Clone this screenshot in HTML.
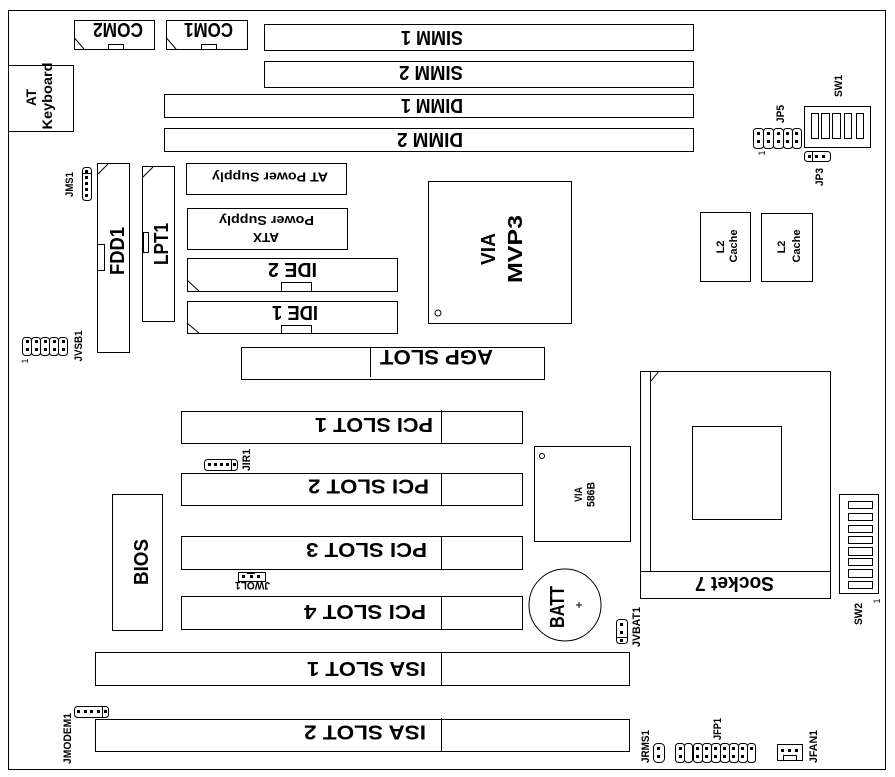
<!DOCTYPE html>
<html><head><meta charset="utf-8"><style>
html,body{margin:0;padding:0;background:#fff}
svg{display:block}
rect,circle,path,line{fill:none;stroke:#000;stroke-width:1}
.p{fill:#000;stroke:none}
text{font-family:"Liberation Sans",sans-serif;font-weight:bold;fill:#000;text-anchor:middle;stroke:none}
.h{font-size:21px}.b{font-size:20px}.m{font-size:14px}.s{font-size:11px}.x{font-size:11px}
</style></head><body>
<svg width="895" height="777" viewBox="0 0 895 777" xmlns="http://www.w3.org/2000/svg">
<defs>
<rect id="n" class="p" x="0" y="0" width="3" height="3"/>
</defs>
<rect x="8.5" y="10.5" width="877" height="759"/>
<!-- COM -->
<rect x="74.5" y="20.5" width="80" height="29"/><rect x="108.5" y="44.5" width="15" height="5"/><line x1="74.5" y1="38" x2="84" y2="49"/>
<rect x="166.5" y="20.5" width="81" height="29"/><rect x="201.5" y="44.5" width="15" height="5"/><line x1="166.5" y1="38" x2="176" y2="49"/>
<text class="b" transform="translate(118,23) rotate(180)" textLength="50" lengthAdjust="spacingAndGlyphs">COM2</text>
<text class="b" transform="translate(208.5,23) rotate(180)" textLength="49" lengthAdjust="spacingAndGlyphs">COM1</text>
<!-- Memory -->
<rect x="264.5" y="24.5" width="429" height="26"/><rect x="264.5" y="61.5" width="429" height="26"/>
<rect x="164.5" y="94.5" width="529" height="23"/><rect x="164.5" y="128.5" width="529" height="23"/>
<text class="b" transform="translate(432,31) rotate(180)" textLength="62" lengthAdjust="spacingAndGlyphs">SIMM 1</text>
<text class="b" transform="translate(431,66) rotate(180)" textLength="64" lengthAdjust="spacingAndGlyphs">SIMM 2</text>
<text class="b" transform="translate(432,99) rotate(180)" textLength="62" lengthAdjust="spacingAndGlyphs">DIMM 1</text>
<text class="b" transform="translate(430,133) rotate(180)" textLength="66" lengthAdjust="spacingAndGlyphs">DIMM 2</text>
<!-- Keyboard -->
<rect x="8.5" y="65.5" width="65" height="66"/>
<text class="m" transform="translate(36,97.5) rotate(-90)" textLength="17" lengthAdjust="spacingAndGlyphs">AT</text>
<text class="m" transform="translate(52,96) rotate(-90)" textLength="67" lengthAdjust="spacingAndGlyphs">Keyboard</text>
<!-- JMS1 -->
<rect x="82.5" y="167.5" width="9" height="33" rx="3"/><line x1="82.5" y1="173.5" x2="91.5" y2="173.5"/>
<use href="#n" x="85" y="170"/><use href="#n" x="85" y="176"/><use href="#n" x="85" y="182"/><use href="#n" x="85" y="188"/><use href="#n" x="85" y="194"/>
<text class="x" transform="translate(73,184.5) rotate(-90)" textLength="25" lengthAdjust="spacingAndGlyphs">JMS1</text>
<!-- FDD1 / LPT1 -->
<rect x="97.5" y="163.5" width="32" height="189"/><rect x="97.5" y="244.5" width="7" height="26"/><line x1="98" y1="174" x2="108" y2="164"/>
<text class="b" transform="translate(124,251) rotate(-90)" textLength="48" lengthAdjust="spacingAndGlyphs">FDD1</text>
<rect x="142.5" y="166.5" width="32" height="155"/><rect x="143.5" y="232.5" width="5" height="20"/><line x1="143" y1="177" x2="153" y2="167"/>
<text class="b" transform="translate(168,244) rotate(-90)" textLength="42" lengthAdjust="spacingAndGlyphs">LPT1</text>
<!-- Power -->
<rect x="186.5" y="163.5" width="160" height="31"/>
<text class="m" style="font-size:13px" transform="translate(270,172.5) rotate(180)" textLength="116" lengthAdjust="spacingAndGlyphs">AT Power Supply</text>
<rect x="187.5" y="208.5" width="160" height="41"/>
<text class="m" style="font-size:13px" transform="translate(266.5,216) rotate(180)" textLength="95" lengthAdjust="spacingAndGlyphs">Power Supply</text>
<text class="m" style="font-size:13px" transform="translate(266,233) rotate(180)" textLength="26" lengthAdjust="spacingAndGlyphs">ATX</text>
<!-- IDE -->
<rect x="187.5" y="258.5" width="210" height="33"/><rect x="281.5" y="282.5" width="30" height="9"/><line x1="187" y1="280" x2="199" y2="291"/>
<text class="b" transform="translate(292.5,263) rotate(180)" textLength="49" lengthAdjust="spacingAndGlyphs">IDE 2</text>
<rect x="187.5" y="301.5" width="210" height="32"/><rect x="281.5" y="325.5" width="30" height="8"/><line x1="187" y1="323" x2="199" y2="333"/>
<text class="b" transform="translate(295,306) rotate(180)" textLength="46" lengthAdjust="spacingAndGlyphs">IDE 1</text>
<!-- MVP3 -->
<rect x="428.5" y="181.5" width="143" height="142"/><circle cx="438" cy="313" r="3"/>
<text class="b" transform="translate(495,249) rotate(-90)" textLength="32" lengthAdjust="spacingAndGlyphs">VIA</text>
<text class="b" transform="translate(522,249) rotate(-90)" textLength="68" lengthAdjust="spacingAndGlyphs">MVP3</text>
<!-- JVSB1 -->
<rect x="22.5" y="337.5" width="9" height="18" rx="3"/><rect x="31.5" y="337.5" width="9" height="18" rx="3"/><rect x="40.5" y="337.5" width="9" height="18" rx="3"/><rect x="49.5" y="337.5" width="9" height="18" rx="3"/><rect x="58.5" y="337.5" width="9" height="18" rx="3"/>
<use href="#n" x="26" y="340"/><use href="#n" x="26" y="348"/><use href="#n" x="35" y="340"/><use href="#n" x="35" y="348"/><use href="#n" x="44" y="340"/><use href="#n" x="44" y="348"/><use href="#n" x="53" y="340"/><use href="#n" x="53" y="348"/><use href="#n" x="62" y="340"/><use href="#n" x="62" y="348"/>
<text class="x" transform="translate(82,346) rotate(-90)" textLength="31" lengthAdjust="spacingAndGlyphs">JVSB1</text>
<text transform="translate(28,361) rotate(-90)" style="font-weight:normal;font-size:9px">1</text>
<!-- AGP -->
<rect x="241.5" y="347.5" width="303" height="32"/><line x1="370.5" y1="348" x2="370.5" y2="377"/>
<text class="h" transform="translate(436.5,350) rotate(180)" textLength="113" lengthAdjust="spacingAndGlyphs">AGP SLOT</text>
<!-- PCI -->
<rect x="181.5" y="411.5" width="341" height="32"/><line x1="441.5" y1="410" x2="441.5" y2="443"/>
<rect x="181.5" y="473.5" width="341" height="32"/><line x1="441.5" y1="473" x2="441.5" y2="505"/>
<rect x="181.5" y="536.5" width="341" height="33"/><line x1="441.5" y1="536" x2="441.5" y2="569"/>
<rect x="181.5" y="596.5" width="341" height="33"/><line x1="441.5" y1="596" x2="441.5" y2="629"/>
<text class="b" transform="translate(374,418) rotate(180)" textLength="118" lengthAdjust="spacingAndGlyphs">PCI SLOT 1</text>
<text class="b" transform="translate(368.5,479.5) rotate(180)" textLength="121" lengthAdjust="spacingAndGlyphs">PCI SLOT 2</text>
<text class="b" transform="translate(366.5,543) rotate(180)" textLength="121" lengthAdjust="spacingAndGlyphs">PCI SLOT 3</text>
<text class="b" transform="translate(365,605) rotate(180)" textLength="122" lengthAdjust="spacingAndGlyphs">PCI SLOT 4</text>
<!-- ISA -->
<rect x="95.5" y="652.5" width="534" height="33"/><line x1="441.5" y1="652" x2="441.5" y2="685"/>
<rect x="95.5" y="719.5" width="534" height="32"/><line x1="441.5" y1="718" x2="441.5" y2="751"/>
<text class="b" transform="translate(366.5,662) rotate(180)" textLength="119" lengthAdjust="spacingAndGlyphs">ISA SLOT 1</text>
<text class="b" transform="translate(365,725.5) rotate(180)" textLength="122" lengthAdjust="spacingAndGlyphs">ISA SLOT 2</text>
<!-- BIOS -->
<rect x="112.5" y="494.5" width="50" height="136"/>
<text class="b" transform="translate(148,562) rotate(-90)" textLength="46" lengthAdjust="spacingAndGlyphs">BIOS</text>
<!-- JIR1 -->
<rect x="204.5" y="459.5" width="33" height="11" rx="3"/><line x1="231.5" y1="460" x2="231.5" y2="470"/>
<use href="#n" x="208" y="463"/><use href="#n" x="214" y="463"/><use href="#n" x="220" y="463"/><use href="#n" x="226" y="463"/><use href="#n" x="233" y="463"/>
<text class="x" transform="translate(250,460) rotate(-90)" textLength="22" lengthAdjust="spacingAndGlyphs">JIR1</text>
<!-- JWOL1 -->
<rect x="238.5" y="572.5" width="27" height="9"/><use href="#n" x="242" y="575"/><use href="#n" x="250" y="575"/><use href="#n" x="257" y="575"/><line x1="247" y1="573" x2="255" y2="573" style="stroke-width:2"/>
<text class="x" transform="translate(252.5,582) rotate(180)" textLength="35" lengthAdjust="spacingAndGlyphs">JWOL1</text>
<!-- 586B -->
<rect x="534.5" y="446.5" width="96" height="95"/><circle cx="542" cy="456" r="2.5"/>
<text class="s" transform="translate(582,494.5) rotate(-90)" textLength="15" lengthAdjust="spacingAndGlyphs">VIA</text>
<text class="s" transform="translate(594.5,494.5) rotate(-90)" textLength="25" lengthAdjust="spacingAndGlyphs">586B</text>
<!-- BATT -->
<circle cx="565" cy="605" r="36"/>
<text class="b" transform="translate(564,607) rotate(-90)" textLength="42" lengthAdjust="spacingAndGlyphs">BATT</text>
<line x1="579" y1="602" x2="579" y2="608"/><line x1="576" y1="605" x2="582" y2="605"/>
<!-- JVBAT1 -->
<rect x="616.5" y="619.5" width="11" height="24" rx="3"/><line x1="616.5" y1="637.5" x2="627.5" y2="637.5"/>
<use href="#n" x="620" y="623"/><use href="#n" x="620" y="631"/><use href="#n" x="620" y="639"/>
<text class="x" transform="translate(640,627) rotate(-90)" textLength="40" lengthAdjust="spacingAndGlyphs">JVBAT1</text>
<!-- Socket 7 -->
<rect x="640.5" y="371.5" width="190" height="227"/><line x1="650.5" y1="372" x2="650.5" y2="571"/><line x1="640" y1="571.5" x2="831" y2="571.5"/><line x1="651" y1="381" x2="659" y2="371"/>
<rect x="692.5" y="426.5" width="89" height="93"/>
<text class="b" transform="translate(734.5,577) rotate(180)" textLength="79" lengthAdjust="spacingAndGlyphs">Socket 7</text>
<!-- SW2 -->
<rect x="839.5" y="494.5" width="39" height="99"/>
<rect x="848.5" y="501.5" width="24" height="7"/><rect x="848.5" y="513.5" width="24" height="7"/><rect x="848.5" y="525.5" width="24" height="7"/><rect x="848.5" y="536.5" width="24" height="7"/><rect x="848.5" y="547.5" width="24" height="8"/><rect x="848.5" y="558.5" width="24" height="7"/><rect x="848.5" y="569.5" width="24" height="8"/><rect x="848.5" y="581.5" width="24" height="7"/>
<text class="x" transform="translate(862,614) rotate(-90)" textLength="22" lengthAdjust="spacingAndGlyphs">SW2</text>
<text transform="translate(880,601) rotate(-90)" style="font-weight:normal;font-size:9px">1</text>
<!-- L2 -->
<rect x="700.5" y="212.5" width="50" height="69"/><rect x="761.5" y="213.5" width="51" height="68"/>
<text class="x" transform="translate(724,247) rotate(-90)">L2</text>
<text class="x" transform="translate(737,246) rotate(-90)" textLength="33" lengthAdjust="spacingAndGlyphs">Cache</text>
<text class="x" transform="translate(785,247) rotate(-90)">L2</text>
<text class="x" transform="translate(800,246) rotate(-90)" textLength="33" lengthAdjust="spacingAndGlyphs">Cache</text>
<!-- SW1 -->
<rect x="804.5" y="106.5" width="66" height="41"/>
<rect x="811.5" y="113.5" width="7" height="25"/><rect x="821.5" y="113.5" width="8" height="25"/><rect x="832.5" y="113.5" width="8" height="25"/><rect x="844.5" y="113.5" width="7" height="25"/><rect x="856.5" y="113.5" width="7" height="25"/>
<text class="x" transform="translate(842,86) rotate(-90)" textLength="22" lengthAdjust="spacingAndGlyphs">SW1</text>
<!-- JP5 -->
<rect x="753.5" y="128.5" width="10" height="20" rx="3"/><rect x="763.5" y="128.5" width="10" height="20" rx="3"/><rect x="773.5" y="128.5" width="10" height="20" rx="3"/><rect x="783.5" y="128.5" width="9" height="20" rx="3"/><rect x="792.5" y="128.5" width="9" height="20" rx="3"/>
<use href="#n" x="757" y="132"/><use href="#n" x="757" y="140"/><use href="#n" x="767" y="132"/><use href="#n" x="767" y="140"/><use href="#n" x="777" y="132"/><use href="#n" x="777" y="140"/><use href="#n" x="786" y="132"/><use href="#n" x="786" y="140"/><use href="#n" x="795" y="132"/><use href="#n" x="795" y="140"/>
<text class="x" transform="translate(784,114) rotate(-90)" textLength="18" lengthAdjust="spacingAndGlyphs">JP5</text>
<text transform="translate(765,153) rotate(-90)" style="font-weight:normal;font-size:9px">1</text>
<!-- JP3 -->
<rect x="804.5" y="151.5" width="26" height="10" rx="3"/><line x1="812.5" y1="152" x2="812.5" y2="161"/>
<use href="#n" x="808" y="155"/><use href="#n" x="815" y="155"/><use href="#n" x="822" y="155"/>
<text class="x" transform="translate(823,177) rotate(-90)" textLength="18" lengthAdjust="spacingAndGlyphs">JP3</text>
<!-- JMODEM1 -->
<rect x="74.5" y="706.5" width="34" height="11" rx="3"/><line x1="102.5" y1="707" x2="102.5" y2="717"/>
<use href="#n" x="77" y="710"/><use href="#n" x="84" y="710"/><use href="#n" x="90" y="710"/><use href="#n" x="97" y="710"/><use href="#n" x="104" y="710"/>
<text class="x" transform="translate(71,738.5) rotate(-90)" textLength="51" lengthAdjust="spacingAndGlyphs">JMODEM1</text>
<!-- JRMS1 -->
<rect x="653.5" y="743.5" width="11" height="19" rx="4"/><use href="#n" x="657" y="747"/><use href="#n" x="657" y="755"/>
<text class="x" transform="translate(649,746.5) rotate(-90)" textLength="33" lengthAdjust="spacingAndGlyphs">JRMS1</text>
<!-- JFP1 -->
<rect x="675.5" y="743.5" width="9" height="19" rx="3"/><rect x="684.5" y="743.5" width="8" height="19" rx="3"/><rect x="693.5" y="743.5" width="9" height="19" rx="3"/><rect x="702.5" y="743.5" width="9" height="19" rx="3"/><rect x="711.5" y="743.5" width="9" height="19" rx="3"/><rect x="720.5" y="743.5" width="9" height="19" rx="3"/><rect x="729.5" y="743.5" width="9" height="19" rx="3"/><rect x="738.5" y="743.5" width="9" height="19" rx="3"/><rect x="747.5" y="743.5" width="8" height="19" rx="3"/>
<use href="#n" x="679" y="747"/><use href="#n" x="679" y="755"/><use href="#n" x="696" y="747"/><use href="#n" x="696" y="755"/><use href="#n" x="705" y="747"/><use href="#n" x="705" y="755"/><use href="#n" x="714" y="747"/><use href="#n" x="714" y="755"/><use href="#n" x="723" y="747"/><use href="#n" x="723" y="755"/><use href="#n" x="732" y="747"/><use href="#n" x="732" y="755"/><use href="#n" x="741" y="747"/><use href="#n" x="741" y="755"/><use href="#n" x="750" y="747"/>
<text class="x" transform="translate(721,729) rotate(-90)" textLength="22" lengthAdjust="spacingAndGlyphs">JFP1</text>
<!-- JFAN1 -->
<rect x="777.5" y="744.5" width="25" height="16"/><rect x="783.5" y="755.5" width="13" height="5"/>
<use href="#n" x="781" y="749"/><use href="#n" x="788" y="749"/><use href="#n" x="795" y="749"/>
<text class="x" transform="translate(817,746.5) rotate(-90)" textLength="33" lengthAdjust="spacingAndGlyphs">JFAN1</text>
</svg>
</body></html>
